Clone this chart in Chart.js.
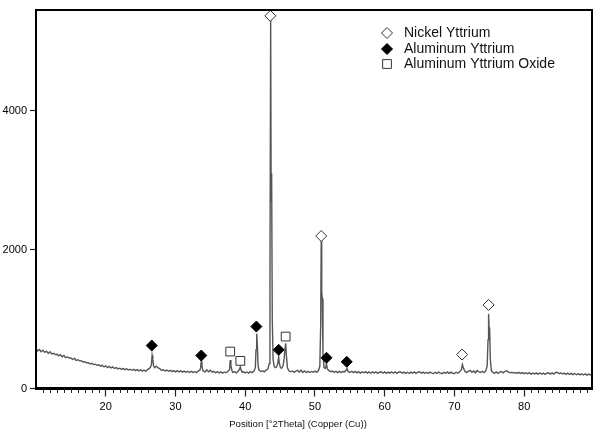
<!DOCTYPE html>
<html><head><meta charset="utf-8">
<script src="https://cdn.jsdelivr.net/npm/chart.js@4/dist/chart.umd.min.js"></script>
<style>html,body{margin:0;padding:0;background:#fff;}#wrap{width:599px;height:436px;position:relative;}</style>
</head><body><div id="wrap"><canvas id="c"></canvas></div>
<script>
// 2Theta positions (degrees)
const positions = [
10,10.25,10.5,10.75,11,11.25,11.5,11.75,12,12.25,
12.5,12.75,13,13.25,13.5,13.75,14,14.25,14.5,14.75,
15,15.25,15.5,15.75,16,16.25,16.5,16.75,17,17.25,
17.5,17.75,18,18.25,18.5,18.75,19,19.25,19.5,19.75,
20,20.25,20.5,20.75,21,21.25,21.5,21.75,22,22.25,
22.5,22.75,23,23.25,23.5,23.75,24,24.25,24.5,24.75,
25,25.25,25.5,25.75,26,
26.25,26.4,26.55,26.65,26.75,26.85,27,27.25,27.5,27.75,
28,28.25,28.5,28.75,29,29.25,29.5,29.75,30,30.25,
30.5,30.75,31,31.25,31.5,31.75,32,32.25,32.5,32.75,
33,33.25,33.5,33.6,33.7,33.8,33.9,34,34.25,34.5,
34.75,35,35.25,35.5,35.75,36,36.25,36.5,36.75,37,
37.25,37.5,37.75,37.85,37.95,38.1,38.25,38.5,38.75,39,
39.15,39.3,39.4,39.55,39.75,40,40.25,40.5,40.75,41,
41.25,41.45,41.55,41.65,41.75,41.85,42,42.25,42.5,42.75,
43,43.25,43.45,43.55,43.65,43.72,43.79,43.88,44,44.15,
44.3,44.5,44.65,44.8,44.9,45.05,45.2,45.4,45.55,45.7,
45.8,45.9,46.05,46.25,46.5,46.75,47,47.25,47.5,47.75,
48,48.25,48.5,48.75,49,49.25,49.5,49.75,50,50.25,
50.5,50.7,50.82,50.9,50.97,51.05,51.15,51.3,51.5,51.65,
51.8,52,52.25,52.5,52.75,53,53.25,53.5,53.75,54,
54.25,54.5,54.6,54.75,55,55.25,55.5,55.75,56,56.25,
56.5,56.75,57,57.25,57.5,57.75,58,58.25,58.5,58.75,
59,59.25,59.5,59.75,60,60.25,60.5,60.75,61,61.25,
61.5,61.75,62,62.25,62.5,62.75,63,63.25,63.5,63.75,
64,64.25,64.5,64.75,65,65.25,65.5,65.75,66,66.25,
66.5,66.75,67,67.25,67.5,67.75,68,68.25,68.5,68.75,
69,69.25,69.5,69.75,70,70.25,70.5,70.75,71,71.15,
71.3,71.5,71.75,72,72.25,72.5,72.75,73,73.25,73.5,
73.75,74,74.25,74.5,74.7,74.82,74.9,74.97,75.05,75.15,
75.3,75.5,75.75,76,76.25,76.5,76.75,77,77.25,77.5,
77.75,78,78.25,78.5,78.75,79,79.25,79.5,79.75,80,
80.25,80.5,80.75,81,81.25,81.5,81.75,82,82.25,82.5,
82.75,83,83.25,83.5,83.75,84,84.25,84.5,84.75,85,
85.25,85.5,85.75,86,86.25,86.5,86.75,87,87.25,87.5,
87.75,88,88.25,88.5,88.75,89,89.25,89.5,89.75
];
// intensity (counts)
const counts = [
575,540,562,530,552,520,538,505,528,498,
506,490,494,470,488,458,476,445,455,440,
440,418,436,405,414,398,400,380,386,370,
372,352,362,344,350,335,342,322,334,310,
326,302,318,296,310,288,302,282,292,278,
288,272,284,266,278,262,276,258,272,254,
270,250,266,248,272,
290,305,340,480,420,330,300,322,296,286,
262,270,252,266,248,262,244,258,240,256,
238,254,236,250,234,248,230,246,232,242,
228,250,262,300,390,330,268,250,238,268,
242,264,236,248,226,244,224,240,222,238,
226,244,270,410,330,256,232,240,226,252,
270,310,268,236,240,224,238,222,244,228,
252,300,560,790,600,320,262,244,254,240,
266,280,360,1500,5330,2700,3100,1000,420,320,
300,310,350,450,360,300,290,320,400,560,
650,480,300,256,240,252,232,250,262,236,
266,232,254,228,248,230,246,236,250,232,
258,320,900,2130,1400,1295,500,300,290,355,
280,256,242,252,232,248,228,246,230,244,
238,270,285,246,230,248,228,246,226,242,
222,240,226,242,222,238,220,240,224,238,
218,236,240,220,238,218,236,222,240,220,
238,218,234,240,220,236,218,234,216,236,
220,238,218,234,240,220,236,216,234,218,
236,222,216,234,218,236,220,214,234,218,
238,218,236,220,216,234,220,240,270,345,
290,246,228,248,262,234,254,226,258,240,
230,248,228,254,330,700,1075,880,860,420,
256,230,220,238,218,236,244,226,248,254,
236,226,234,222,230,218,232,216,228,214,
226,212,228,206,222,210,224,204,226,206,
222,204,220,226,208,224,206,230,234,212,
226,208,222,204,220,202,218,200,216,198,
214,196,212,194,210,192,208,196,210
];
// phase markers
const nickelYttriumPos = [43.6, 50.9, 71.1, 74.9];
const nickelYttriumY   = [5370, 2197, 489, 1204];
const aluminumYttriumPos = [26.6, 33.7, 41.6, 44.8, 51.66, 54.56];
const aluminumYttriumY   = [619, 475, 892, 557, 442, 384];
const alYOxidePos = [37.85, 39.3, 45.8];
const alYOxideY   = [532, 398, 748];
const phaseLabels = ['Nickel Yttrium', 'Aluminum Yttrium', 'Aluminum Yttrium Oxide'];
const xTickLabels = [20, 30, 40, 50, 60, 70, 80];
const yTickLabels = [0, 2000, 4000];
const xTitle = 'Position [°2Theta] (Copper (Cu))';

const pts = (xs, ys) => xs.map((x, i) => ({x: x, y: ys[i]}));
const FONT = '"Liberation Sans", Arial, sans-serif';

const frame = {
  id: 'frame',
  afterDatasetsDraw(chart) {
    const {ctx, chartArea: a} = chart;
    ctx.save();
    ctx.strokeStyle = '#000';
    ctx.lineWidth = 2;
    ctx.strokeRect(Math.round(a.left), Math.round(a.top), Math.round(a.right - a.left), Math.round(a.bottom - a.top));
    const xs = chart.scales.x;
    ctx.lineWidth = 1;
    ctx.strokeStyle = '#222';
    ctx.beginPath();
    for (let v = Math.ceil(xs.min); v <= xs.max; v += 1) {
      if (v % 10 === 0) continue;
      const px = Math.round(xs.getPixelForValue(v)) + 0.5;
      ctx.moveTo(px, a.bottom);
      ctx.lineTo(px, a.bottom + 4.5);
    }
    ctx.stroke();
    ctx.restore();
  }
};

const legendBox = {
  id: 'legendBox',
  afterDraw(chart) {
    const {ctx} = chart;
    const ds = chart.data.datasets.slice(0, 3);
    ctx.save();
    ctx.font = '14px ' + FONT;
    ctx.textBaseline = 'middle';
    ctx.textAlign = 'left';
    const x0 = 387, ys = [33, 49, 64];
    ds.forEach((d, i) => {
      ctx.fillStyle = d.backgroundColor;
      ctx.strokeStyle = d.borderColor;
      ctx.lineWidth = 1;
      Chart.helpers.drawPoint(ctx, {pointStyle: d.pointStyle, radius: d.pointRadius, rotation: 0, borderWidth: 1}, x0, ys[i]);
      ctx.fillStyle = '#111';
      ctx.fillText(d.label, 404, ys[i] + 0.5);
    });
    ctx.restore();
  }
};

new Chart(document.getElementById('c'), {
  type: 'line',
  data: {
    datasets: [
      {label: phaseLabels[0], data: pts(nickelYttriumPos, nickelYttriumY), showLine: false,
       pointStyle: 'rectRot', pointRadius: 5.5, backgroundColor: '#ffffff', borderColor: '#333', borderWidth: 1, order: 0},
      {label: phaseLabels[1], data: pts(aluminumYttriumPos, aluminumYttriumY), showLine: false,
       pointStyle: 'rectRot', pointRadius: 5.5, backgroundColor: '#000000', borderColor: '#000', borderWidth: 1, order: 0},
      {label: phaseLabels[2], data: pts(alYOxidePos, alYOxideY), showLine: false,
       pointStyle: 'rect', pointRadius: 6.2, backgroundColor: '#ffffff', borderColor: '#333', borderWidth: 1, order: 0},
      {label: 'Pattern', data: pts(positions, counts), borderColor: '#555555', borderWidth: 1.4,
       pointRadius: 0, tension: 0, fill: false, order: 1}
    ]
  },
  options: {
    responsive: true, maintainAspectRatio: false, animation: false,
    layout: {padding: {top: 8, right: 3, left: 0, bottom: 0}},
    plugins: {
      legend: {display: false}, tooltip: {enabled: false},
      title: {display: true, position: 'bottom', text: xTitle, color: '#111',
              font: {family: FONT, size: 9.6, weight: 'normal'}, padding: {top: 0, bottom: 6}}
    },
    scales: {
      x: {
        type: 'linear', min: 10, max: 89.7,
        afterFit: s => { s.height = 30; },
        afterBuildTicks: s => { s.ticks = xTickLabels.map(v => ({value: v})); },
        ticks: {color: '#000', font: {family: FONT, size: 11}, padding: 4, maxRotation: 0, autoSkip: false,
                callback: v => String(v)},
        grid: {drawOnChartArea: false, drawTicks: true, tickLength: 8, tickColor: '#222', tickWidth: 1.2},
        border: {display: true, color: '#000', width: 2}
      },
      y: {
        type: 'linear', min: 0, max: 5460,
        afterFit: s => { s.width = 36; },
        afterBuildTicks: s => { s.ticks = yTickLabels.map(v => ({value: v})); },
        ticks: {color: '#000', font: {family: FONT, size: 11}, padding: 3, callback: v => String(v)},
        grid: {drawOnChartArea: false, drawTicks: true, tickLength: 6, tickColor: '#222', tickWidth: 1.2},
        border: {display: true, color: '#000', width: 2}
      }
    }
  },
  plugins: [frame, legendBox]
});
</script>
</body></html>
